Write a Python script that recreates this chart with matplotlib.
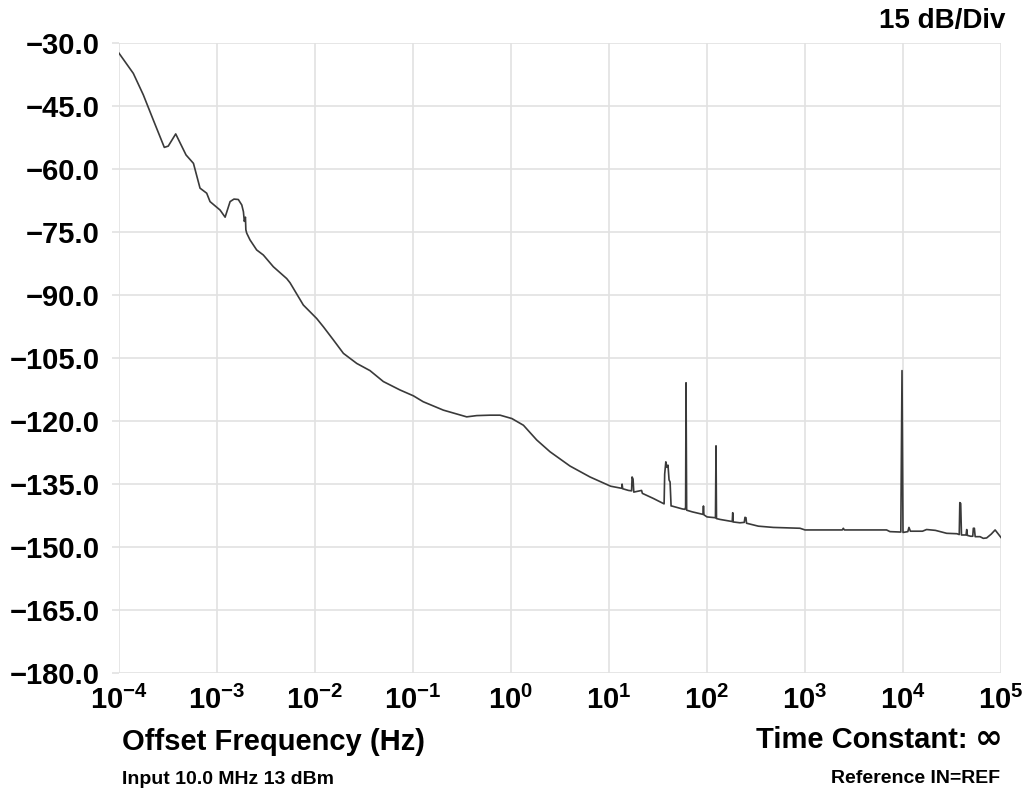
import matplotlib
matplotlib.use("Agg")
import matplotlib.pyplot as plt
import matplotlib.ticker as mticker
import numpy as np

# phase noise trace (Hz, dBc/Hz)
freq = [1.0e-4, 1.40e-4, 1.77e-4, 2.24e-4, 2.90e-4, 3.18e-4, 3.79e-4, 4.83e-4, 5.75e-4,
        6.71e-4, 7.85e-4, 8.49e-4, 1.074e-3, 1.21e-3, 1.36e-3, 1.49e-3, 1.65e-3, 1.79e-3,
        1.86e-3, 1.90e-3, 1.95e-3, 1.97e-3, 2.01e-3, 2.17e-3, 2.54e-3, 2.97e-3, 3.76e-3,
        5.14e-3, 5.56e-3, 7.60e-3, 1.04e-2, 1.22e-2, 1.54e-2, 1.95e-2, 2.67e-2, 3.64e-2,
        4.98e-2, 7.36e-2, 0.101, 0.127, 0.204, 0.279, 0.353, 0.447, 0.611, 0.773, 1.02,
        1.34, 1.83, 2.50, 4.0, 6.4, 10.4, 13.5, 13.6, 13.8, 15.8,
        17.0, 17.2, 17.6, 17.9, 21.5, 21.9, 28.3, 35.9,
        36.5, 37.0, 38.0, 39.0, 40.0, 41.0, 42.0, 43.0, 43.6, 56.0,
        59.5, 60.5, 61.1, 62.0, 70.8, 91.0, 92.0, 93.0, 100.0,
        122.0, 123.6, 125.0, 136.0, 181.0, 183.0, 185.0, 217.0,
        240.0, 244.0, 250.0, 253.0, 334.0, 475.0, 889.0, 1000.0,
        2400.0, 2460.0, 2520.0, 6800.0, 7360.0, 9500.0, 9770.0, 10000.0,
        11200.0, 11500.0, 11900.0, 15800.0, 17400.0, 21400.0, 27900.0, 35500.0,
        37500.0, 38000.0, 38800.0, 39500.0, 41200.0, 44000.0, 44700.0, 45400.0, 49000.0,
        51500.0, 52200.0, 53500.0, 54500.0, 61100.0, 66000.0, 71400.0, 79400.0, 87100.0,
        93300.0, 100000.0]
level = [-32.5, -37.3, -42.4, -48.4, -54.9, -54.6, -51.7, -56.7, -58.7,
         -64.6, -65.8, -67.8, -69.8, -71.5, -67.8, -67.2, -67.3, -68.6,
         -70.2, -72.5, -71.5, -74.5, -75.3, -76.9, -79.3, -80.5, -83.3,
         -86.1, -87.1, -92.4, -95.6, -97.6, -100.7, -103.9, -106.3, -108.0,
         -110.6, -112.6, -114.0, -115.4, -117.4, -118.3, -119.0, -118.7, -118.6, -118.6, -119.4,
         -121.0, -124.5, -127.3, -130.7, -133.3, -135.5, -136.0, -135.0, -136.1, -136.5,
         -136.6, -133.3, -133.8, -136.9, -136.5, -137.2, -138.4, -139.6,
         -139.7, -132.6, -129.7, -131.0, -130.5, -134.0, -134.5, -140.2, -140.2, -140.9,
         -141.0, -140.5, -110.9, -141.2, -141.6, -142.2, -140.2, -142.3, -142.8,
         -143.0, -125.9, -143.2, -143.4, -143.9, -141.8, -144.0, -144.2,
         -144.1, -142.9, -143.0, -144.3, -145.0, -145.3, -145.5, -145.9,
         -145.9, -145.5, -145.9, -145.9, -146.3, -146.4, -108.0, -146.5,
         -146.3, -145.3, -146.2, -146.2, -145.8, -146.0, -146.7, -146.8,
         -147.0, -139.4, -139.6, -147.1, -147.1, -147.1, -145.8, -147.2, -147.4,
         -147.4, -145.5, -145.5, -147.5, -147.5, -147.9, -147.8, -146.9, -145.9,
         -146.8, -147.7]

xticks = [1e-4, 1e-3, 1e-2, 1e-1, 1e0, 1e1, 1e2, 1e3, 1e4, 1e5]
yticks = [-180, -165, -150, -135, -120, -105, -90, -75, -60, -45, -30]

plt.rcParams["font.family"] = ["Liberation Sans", "DejaVu Sans"]
plt.rcParams["font.weight"] = "bold"
plt.rcParams["mathtext.fontset"] = "custom"
plt.rcParams["mathtext.rm"] = "Liberation Sans:bold"
plt.rcParams["mathtext.bf"] = "Liberation Sans:bold"

fig = plt.figure(figsize=(10.31, 7.90), dpi=100)
ax = fig.add_axes([119 / 1031, 1 - 673.3 / 790, 882 / 1031, 630.6 / 790])

ax.plot(freq, level, color="#3a3a3a", lw=1.2)

ax.set_xscale("log")
ax.set_xlim(1e-4, 1e5)
ax.set_ylim(-180, -30)
ax.set_xticks(xticks)
ax.xaxis.set_minor_locator(mticker.NullLocator())
ax.set_yticks(yticks)
ax.xaxis.set_major_formatter(mticker.FuncFormatter(
    lambda v, p: r"$\mathrm{10^{%d}}$" % int(round(np.log10(v)))))
ax.yaxis.set_major_formatter(mticker.FuncFormatter(
    lambda v, p: f"{v:.1f}".replace("-", "\u2212")))

ax.grid(True, color="#e2e2e2", lw=1.2)
ax.set_axisbelow(True)
for s in ax.spines.values():
    s.set_visible(False)
ax.tick_params(axis="y", length=5, color="#e2e2e2", width=1.2, pad=9, labelsize=21)
ax.tick_params(axis="x", length=0, pad=9, labelsize=21)

fig.text(1005 / 1031, 1 - 28 / 790, "15 dB/Div", ha="right", va="baseline", fontsize=20, fontweight="bold")
fig.text(122 / 1031, 1 - 750 / 790, "Offset Frequency (Hz)", ha="left", va="baseline", fontsize=21, fontweight="bold")

# the infinity sign is heavier in the original, so it gets its own bold font
inf = fig.text(1003 / 1031, 1 - 748 / 790, "\u221e", ha="right", va="baseline", fontsize=24,
               fontweight="bold", family="DejaVu Sans")
r = fig.canvas.get_renderer()
bb = inf.get_window_extent(renderer=r)
fig.text((bb.x0 - 8) / 1031, 1 - 748 / 790, "Time Constant:", ha="right", va="baseline", fontsize=21, fontweight="bold")

fig.text(122 / 1031, 1 - 784 / 790, "Input 10.0 MHz 13 dBm", ha="left", va="baseline", fontsize=14, fontweight="bold")
fig.text(1000 / 1031, 1 - 783 / 790, "Reference IN=REF", ha="right", va="baseline", fontsize=14, fontweight="bold")

fig.savefig("out.png", dpi=100)
